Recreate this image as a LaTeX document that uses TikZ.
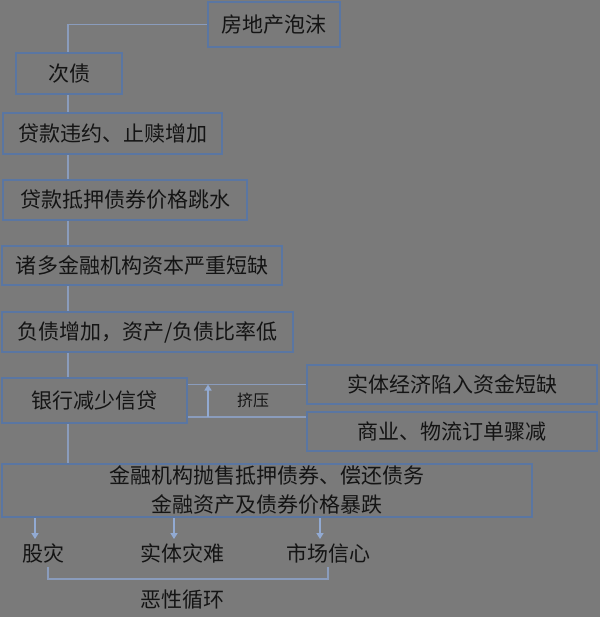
\documentclass[tikz,border=0pt]{standalone}
\usepackage{fontspec}
\setmainfont{Noto Sans CJK SC}
\usepackage{tikz}
\usetikzlibrary{positioning,calc,arrows.meta}
\definecolor{bggray}{HTML}{7A7A7A}
\definecolor{boxblue}{HTML}{5A76A2}
\definecolor{lineblue}{HTML}{8A9CBC}
\definecolor{tipblue}{HTML}{92AAD2}
\definecolor{inkdark}{HTML}{141414}
\tikzset{fbox/.style={draw=boxblue, line width=2.2pt, fill=bggray, text=inkdark, inner sep=0pt, font=\fontsize{21}{29}\selectfont, align=center}}
\tikzset{fsize/.style 2 args={minimum width=#1pt, minimum height=#2pt}}
\tikzset{fline/.style={draw=lineblue, line width=1.6pt}}
\tikzset{farr/.style={draw=tipblue, line width=1.6pt, -{Triangle[length=6pt,width=7pt]}}}
\tikzset{flabel/.style={text=inkdark, font=\fontsize{21}{24}\selectfont, inner sep=4pt}}

\begin{document}
\begin{tikzpicture}[x=1pt, y=-1pt]
		\fill[bggray] (0,0) rectangle (600,617);
		\useasboundingbox (0,0) rectangle (600,617);
		\coordinate (spine) at (68,0);
		% main chain
		\node[fbox, fsize={132}{45}] (bubble) at (274,24.5) {房地产泡沫};
		\node[fbox, fsize={106}{41}] (subprime) at (69,73.5) {次债};
		\node[fbox, fsize={219}{41}] (default) at (112.5,133.5) {贷款违约、止赎增加};
		\node[fbox, fsize={244}{40}] (mbs) at (125,200) {贷款抵押债券价格跳水};
		\node[fbox, fsize={280}{39}] (capital) at (142,265.5) {诸多金融机构资本严重短缺};
		\node[fbox, fsize={291}{40}] (debt) at (147.5,332) {负债增加，资产/负债比率低};
		\node[fbox, fsize={185}{45}] (credit) at (94.5,400.5) {银行减少信贷};
		\node[fbox, fsize={290}{39}] (shortage) at (452,384.5) {实体经济陷入资金短缺};
		\node[fbox, fsize={290}{39}] (orders) at (452,431.5) {商业、物流订单骤减};
		\node[fbox, fsize={530}{53}] (selloff) at (267,490.5) {金融机构抛售抵押债券、偿还债务\\金融资产及债券价格暴跌};
		% outcomes
		\node[flabel] (crash) at (43,553) {股灾};
		\node[flabel] (disaster) at (182,553) {实体灾难};
		\node[flabel] (confidence) at (328,553) {市场信心};
		\node[flabel] (vicious) at (182,600) {恶性循环};
		\node[flabel, font=\fontsize{16}{18}\selectfont] (squeeze) at (253,400) {挤压};

		\draw[fline] (bubble.west) -| (subprime.north -| spine);
		\foreach \a/\b in {subprime/default, default/mbs, mbs/capital, capital/debt, debt/credit, credit/selloff}
			\draw[fline] (\a.south -| spine) -- (\b.north -| spine);

		\coordinate (sqlow) at (208,417);
		\coordinate (sqtop) at (208,384.5);
		\draw[fline] (credit.east |- shortage.west) -- (shortage.west);
		\draw[fline] (credit.east |- sqlow) -- (orders.west |- sqlow);
		\draw[farr] (sqlow) -- (sqtop);

		\foreach \n in {crash, disaster, confidence}
			\draw[farr] ([xshift=-8pt]\n.north |- selloff.south) -- ([xshift=-8pt]\n.north);
		\draw[fline] ([xshift=5pt]crash.south) -- ++(0,-12pt) -| (confidence.south);
	\end{tikzpicture}
\end{document}
